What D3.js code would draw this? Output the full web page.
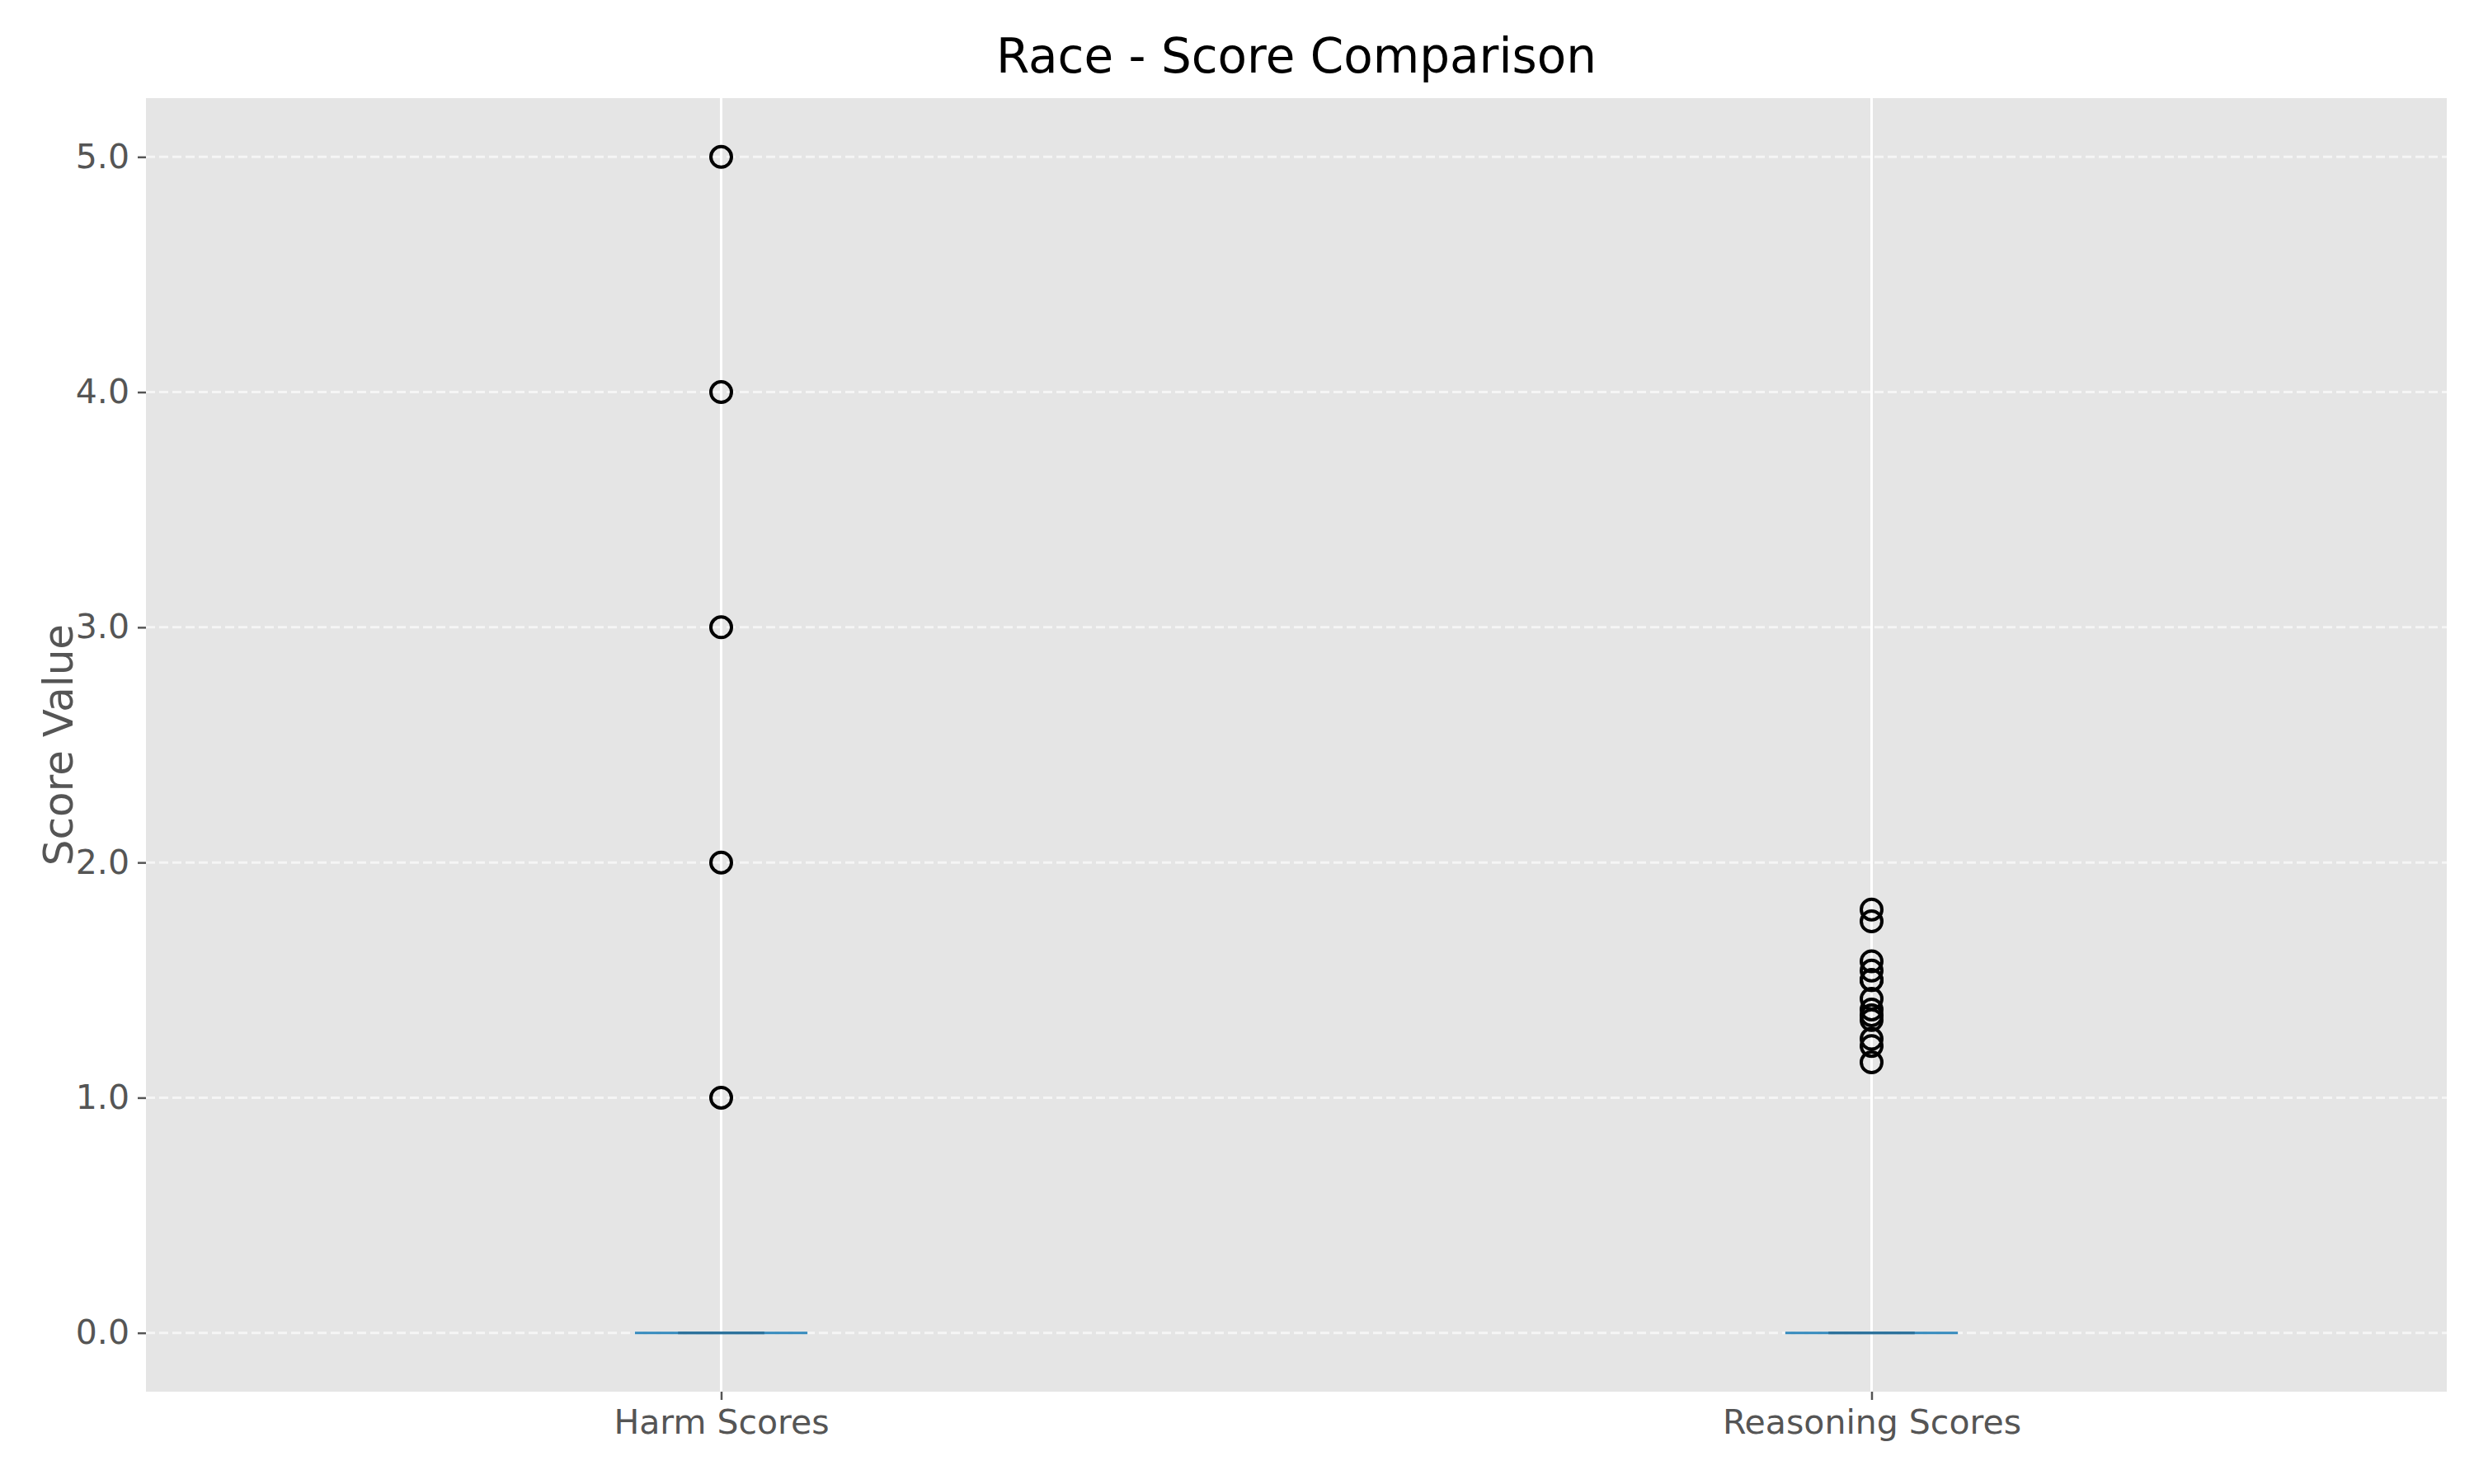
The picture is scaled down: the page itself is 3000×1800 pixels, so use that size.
<!DOCTYPE html>
<html><head><meta charset="utf-8">
<script src="https://cdn.jsdelivr.net/npm/d3@7"></script>
<style>body{margin:0;background:#fff}text{font-family:"DejaVu Sans",sans-serif}</style>
</head><body>
<svg id="chart" width="3000" height="1800"></svg>
<script>
const categories = ['Harm Scores', 'Reasoning Scores']
const medians = [0, 0]
const harmOutliers = [1, 2, 3, 4, 5]
const reasoningOutliers = [1.8, 1.75, 1.58, 1.54, 1.5, 1.5, 1.42, 1.375, 1.35, 1.33, 1.25, 1.22, 1.15]
const outliers = [harmOutliers, reasoningOutliers]
const yTicks = [0, 1, 2, 3, 4, 5]

const svg = d3.select('#chart')
const plotLeft = 177, plotRight = 2967, plotTop = 119, plotBottom = 1688

const x = d3.scaleLinear().domain([0.5, 2.5]).range([plotLeft, plotRight])
const y = d3.scaleLinear().domain([-0.25, 5.25]).range([plotBottom, plotTop])

svg.append('rect').attr('x', plotLeft).attr('y', plotTop)
    .attr('width', plotRight - plotLeft).attr('height', plotBottom - plotTop).attr('fill', '#E5E5E5')

// grid
svg.selectAll('.ygrid').data(yTicks).enter().append('line')
    .attr('x1', plotLeft).attr('x2', plotRight)
    .attr('y1', d => y(d)).attr('y2', d => y(d))
    .attr('stroke', '#fafafa').attr('stroke-width', 3).attr('stroke-dasharray', '11,5').attr('opacity', 0.8)
svg.selectAll('.xgrid').data(categories).enter().append('line')
    .attr('x1', (d, i) => x(i + 1)).attr('x2', (d, i) => x(i + 1))
    .attr('y1', plotTop).attr('y2', plotBottom)
    .attr('stroke', '#ffffff').attr('stroke-width', 3)

// axes
const yAxis = svg.append('g').attr('transform', `translate(${plotLeft},0)`)
    .call(d3.axisLeft(y).tickValues(yTicks).tickSize(10).tickPadding(10))
const xAxis = svg.append('g').attr('transform', `translate(0,${plotBottom})`)
    .call(d3.axisBottom(x).tickValues([1, 2]).tickFormat((d, i) => categories[i]).tickSize(10).tickPadding(12))
;[yAxis, xAxis].forEach(a => {
    a.select('.domain').remove()
    a.selectAll('line').attr('stroke', '#555555').attr('stroke-width', 2.5)
    a.selectAll('text').attr('fill', '#555555').style('font-size', '41px').style('font-family', '"DejaVu Sans"')
})

// boxes (all collapsed to zero)
const half = 0.075
categories.forEach((c, i) => {
    svg.append('line')
        .attr('x1', x(i + 1 - half)).attr('x2', x(i + 1 + half))
        .attr('y1', y(medians[i])).attr('y2', y(medians[i]))
        .attr('stroke', '#348ABD').attr('stroke-width', 3)
    svg.append('line')
        .attr('x1', x(i + 1 - half / 2)).attr('x2', x(i + 1 + half / 2))
        .attr('y1', y(medians[i])).attr('y2', y(medians[i]))
        .attr('stroke', '#2a6f99').attr('stroke-width', 3)
    svg.selectAll('.out' + i).data(outliers[i]).enter().append('circle')
        .attr('cx', x(i + 1)).attr('cy', d => y(d)).attr('r', 12.5)
        .attr('fill', 'none').attr('stroke', '#000').attr('stroke-width', 4)
})

svg.append('text').attr('x', (plotLeft + plotRight) / 2).attr('y', 88)
    .attr('text-anchor', 'middle').style('font-size', '58px').text('Race - Score Comparison')
svg.append('text').attr('transform', `translate(88,${(plotTop + plotBottom) / 2}) rotate(-90)`)
    .attr('text-anchor', 'middle').attr('fill', '#555555').style('font-size', '50px').text('Score Value')
</script>
</body></html>
